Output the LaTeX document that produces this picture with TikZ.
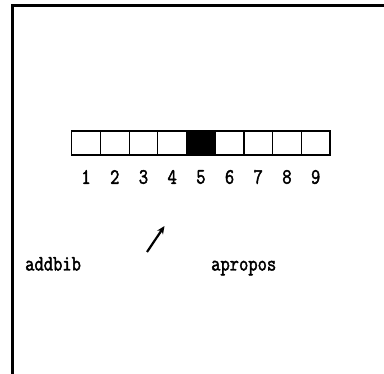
\documentclass[tikz,border=0pt]{standalone}
\usepackage{fontspec}
\newfontfamily\reffont[FakeStretch=0.82, FakeBold=2]{Latin Modern Mono}
\usetikzlibrary{arrows.meta}
\tikzset{
  cell/.style={draw=black, line width=1.2pt, minimum width=28.7pt, minimum height=24pt, inner sep=0pt, outer sep=0pt},
  fullcell/.style={cell, fill=black},
  digit/.style={font=\fontsize{22}{26}\selectfont\reffont, inner sep=0pt},
  word/.style={font=\fontsize{22}{26}\selectfont\reffont, inner sep=0pt, anchor=base west},
  frame/.style={line width=3pt, line cap=butt},
  pointer/.style={line width=2.2pt, -{Stealth[length=8pt,width=7pt]}}
}
\begin{document}
\begin{tikzpicture}[x=1pt,y=-1pt]
\useasboundingbox (0,0) rectangle (384,374);
\fill[white] (0,0) rectangle (384,374);
% frame
\coordinate (fb) at (12.5,374);
\coordinate (fc) at (12.5,6);
\coordinate (fr) at (384,6);
\draw[frame] (fb) -- (fc) -- (fr);
% cells
\foreach \i in {1,...,9} {
  \pgfmathsetmacro{\cx}{71.7+28.7*(\i-0.5)}
  \ifnum\i=5
    \node[fullcell] (c\i) at (\cx,143) {};
  \else
    \node[cell] (c\i) at (\cx,143) {};
  \fi
  \node[digit] (d\i) at (\cx,177) {\i};
}
% labels
\node[word] (addbib) at (25,270.5) {addbib};
\node[word] (apropos) at (211,270.5) {apropos};
% arrow
\coordinate (as) at (147,252);
\coordinate (ae) at (164.5,226);
\draw[pointer] (as) -- (ae);
\end{tikzpicture}
\end{document}
